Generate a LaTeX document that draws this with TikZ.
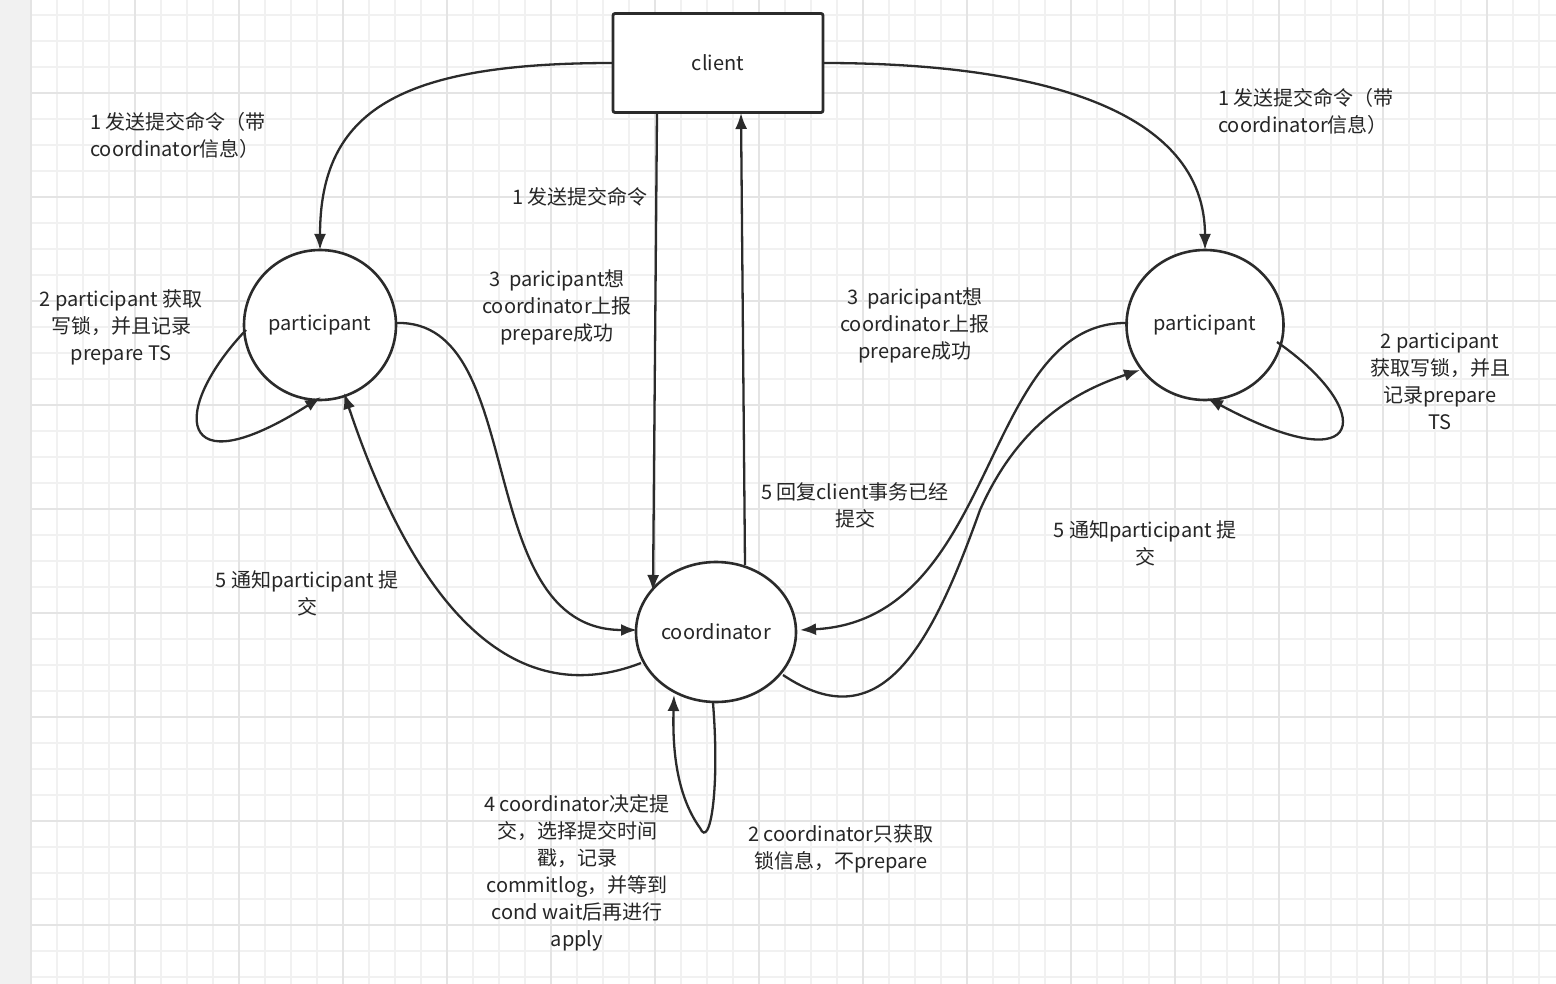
\documentclass[tikz,border=0pt]{standalone}
\usepackage{fontspec}
\setmainfont{Noto Sans CJK SC}
\usetikzlibrary{arrows.meta,shapes.geometric}
\definecolor{ln}{HTML}{2B2B2B}
\definecolor{gmin}{HTML}{F1F1F1}
\definecolor{gmaj}{HTML}{E4E4E4}
\begin{document}
\begin{tikzpicture}[x=1pt,y=-1pt,
  conn/.style={draw=ln,line width=2.3pt,-{Latex[length=16pt,width=12pt]}},
  circ/.style={draw=ln,line width=2.6pt,ellipse,fill=white},
  lbl/.style={font=\fontsize{20}{27}\selectfont,align=center,text=black!85,inner sep=0pt}]
\useasboundingbox (0,0) rectangle (1556,984);
\fill[white] (0,0) rectangle (1556,984);
\fill[gmin] (0,0) rectangle (31,984);
\foreach \i in {0,...,58}{
  \pgfmathsetmacro\xx{31+26*\i}
  \draw[gmin,line width=1.4pt] (\xx,0) -- (\xx,984);}
\foreach \i in {0,...,38}{
  \pgfmathsetmacro\yy{15+26*\i}
  \draw[gmin,line width=1.4pt] (31,\yy) -- (1556,\yy);}
\foreach \i in {0,...,15}{
  \pgfmathsetmacro\xx{31+104*\i}
  \draw[gmaj,line width=1.8pt] (\xx,0) -- (\xx,984);}
\foreach \i in {0,...,9}{
  \pgfmathsetmacro\yy{-11+104*\i}
  \draw[gmaj,line width=1.8pt] (31,\yy) -- (1556,\yy);}

\node[draw=ln,line width=2.8pt,rounded corners=2pt,fill=white,minimum width=210pt,minimum height=99pt,lbl] (client) at (718,63) {client};
\node[circ,minimum width=152pt,minimum height=150pt,lbl] (pl) at (320,325) {participant};
\node[circ,minimum width=157pt,minimum height=150pt,lbl] (pr) at (1205,325) {participant};
\node[circ,minimum width=160pt,minimum height=140pt,lbl] (co) at (716,632) {coordinator};

\coordinate (cl) at (613,63);
\coordinate (cr) at (823,63);
\coordinate (plt) at (320,250);
\coordinate (prt) at (1205,250);
\draw[conn] (cl) .. controls (400,63) and (320,110) .. (plt);
\draw[conn] (cr) .. controls (1040,63) and (1205,110) .. (prt);
\coordinate (cd1) at (657,113); \coordinate (cd2) at (653,591);
\draw[conn] (cd1) -- (cd2);
\coordinate (cu1) at (745,565); \coordinate (cu2) at (741,113);
\draw[conn] (cu1) -- (cu2);
% left self loop
\coordinate (pla) at (246,330); \coordinate (plb) at (321,397);
\draw[conn] (pla) .. controls (170,410) and (175,490) .. (plb);
% right self loop
\coordinate (pra) at (1277,342); \coordinate (prb) at (1207,398);
\draw[conn] (pra) .. controls (1375,410) and (1370,485) .. (prb);
% left participant -> coordinator
\coordinate (plr) at (397,323); \coordinate (col) at (637,630);
\draw[conn] (plr) .. controls (530,320) and (470,630) .. (col);
% coordinator -> left participant
\coordinate (coa) at (641,663); \coordinate (plc) at (344,393);
\draw[conn] (coa) .. controls (520,710) and (420,620) .. (plc);
% right participant -> coordinator
\coordinate (prl) at (1128,323); \coordinate (cor) at (800,630);
\draw[conn] (prl) .. controls (980,320) and (1000,620) .. (cor);
% coordinator -> right participant
\coordinate (cob) at (783,675); \coordinate (prc) at (1140,370);
\draw[conn] (cob) .. controls (880,740) and (930,650) .. (980,510) .. controls (1020,420) and (1080,390) .. (prc);
% coordinator self loop
\coordinate (coc) at (713,703); \coordinate (cod) at (674,695);
\draw[conn] (coc) .. controls (720,790) and (710,850) .. (700,828) .. controls (680,800) and (672,760) .. (cod);

\node[lbl,align=left,anchor=west] (t1) at (90,135) {1 发送提交命令（带\\coordinator信息）};
\node[lbl,align=left,anchor=west] (t2) at (1218,111) {1 发送提交命令（带\\coordinator信息）};
\node[lbl] (t3) at (580,197) {1 发送提交命令};
\node[lbl] (t4) at (557,307) {3\ \ paricipant想\\coordinator上报\\prepare成功};
\node[lbl] (t5) at (915,325) {3\ \ paricipant想\\coordinator上报\\prepare成功};
\node[lbl] (t6) at (121,327) {2 participant 获取\\写锁，并且记录\\prepare TS};
\node[lbl] (t7) at (1440,381) {2 participant\\获取写锁，并且\\记录prepare\\TS};
\node[lbl] (t8) at (855,505) {5 回复client事务已经\\提交};
\node[lbl] (t9) at (307,593) {5 通知participant 提\\交};
\node[lbl] (t10) at (1145,543) {5 通知participant 提\\交};
\node[lbl] (t11) at (577,873) {4 coordinator决定提\\交，选择提交时间\\戳，记录\\commitlog，并等到\\cond wait后再进行\\apply};
\node[lbl] (t12) at (841,849) {2 coordinator只获取\\锁信息，不prepare};
\end{tikzpicture}
\end{document}
